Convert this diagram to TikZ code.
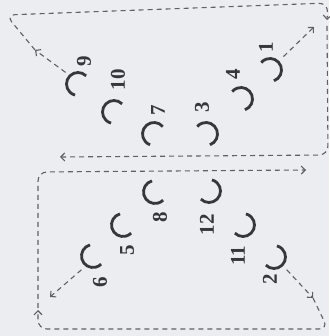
\documentclass[tikz,border=0pt]{standalone}
\usepackage{fontspec}
\setmainfont{Liberation Serif}
\usetikzlibrary{arrows.meta}
\definecolor{paper}{RGB}{236,237,241}
\definecolor{ink}{RGB}{55,55,58}
\definecolor{trace}{RGB}{95,95,100}

\begin{document}
\begin{tikzpicture}[x=1pt, y=1pt,
    slot/.style={ink, line width=2.8pt},
    num/.style={ink, rotate=90, font=\fontsize{21}{21}\selectfont\bfseries},
    flow/.style={trace, line width=1.1pt, dash pattern=on 5pt off 4pt},
    >={Straight Barb[length=4pt,width=8pt]}]
    % Paper
    \fill[paper] (0,0) rectangle (329,336);
    \useasboundingbox (0,0) rectangle (329,336);

    % Slots: number/x/y/opening
    \foreach \n/\x/\y/\o in {9/78/252/-30, 10/114/224/-30, 7/154/202/-35,
                             3/206/202/215, 4/241/237/215, 1/270/266/215,
                             6/93/80/30, 5/123/111/30, 8/155/144/30,
                             12/209/145/150, 11/243/111/150, 2/274/79/150}
        \draw[slot] (\x,\y) coordinate (s\n) ++(\o+75:11.5pt)
            arc[start angle=\o+75, delta angle=210, radius=11.5pt];
    \foreach \n/\x/\y in {9/84/275, 10/118/256, 7/158/226, 3/202/229, 4/233/262, 1/266/289,
                          6/100/54, 5/127/86, 8/160/119, 12/207/111, 11/238/80, 2/270/57}
        \node[num] (l\n) at (\x,\y) {\n};

    % Upper loop
    \coordinate (a9) at ([shift={(137:17pt)}]s9);
    \coordinate (p9) at (35,286);
    \coordinate (tl) at (6,321);
    \coordinate (tr) at (328,333);
    \coordinate (tre) at (327,316);
    \coordinate (rt) at (327,310);
    \coordinate (rc) at (328,181);
    \coordinate (ml) at (60,179);
    \coordinate (a1) at ([shift={(45:19pt)}]s1);
    \coordinate (p1) at (314,309);
    \draw[flow, ->] (a9) -- (p9);
    \draw[flow, ->, rounded corners=9pt] (p9) -- (tl) -- (tr) -- (tre);
    \draw[flow, ->, rounded corners=9pt] (rt) -- (rc) -- (ml);
    \draw[flow, ->] (a1) -- (p1);

    % Lower loop
    \coordinate (a2) at ([shift={(-45:18pt)}]s2);
    \coordinate (p2) at (313,38);
    \coordinate (br) at (328,7);
    \coordinate (bl) at (38,7);
    \coordinate (blu) at (38,26);
    \coordinate (lb) at (38,28);
    \coordinate (lc) at (38,164);
    \coordinate (mr) at (306,166);
    \coordinate (a6) at ([shift={(-130:18pt)}]s6);
    \coordinate (p6) at (50,39);
    \draw[flow, ->] (a2) -- (p2);
    \draw[flow, ->, rounded corners=9pt] (p2) -- (br) -- (bl) -- (blu);
    \draw[flow, ->, rounded corners=9pt] (lb) -- (lc) -- (mr);
    \draw[flow, ->] (a6) -- (p6);
\end{tikzpicture}
\end{document}
